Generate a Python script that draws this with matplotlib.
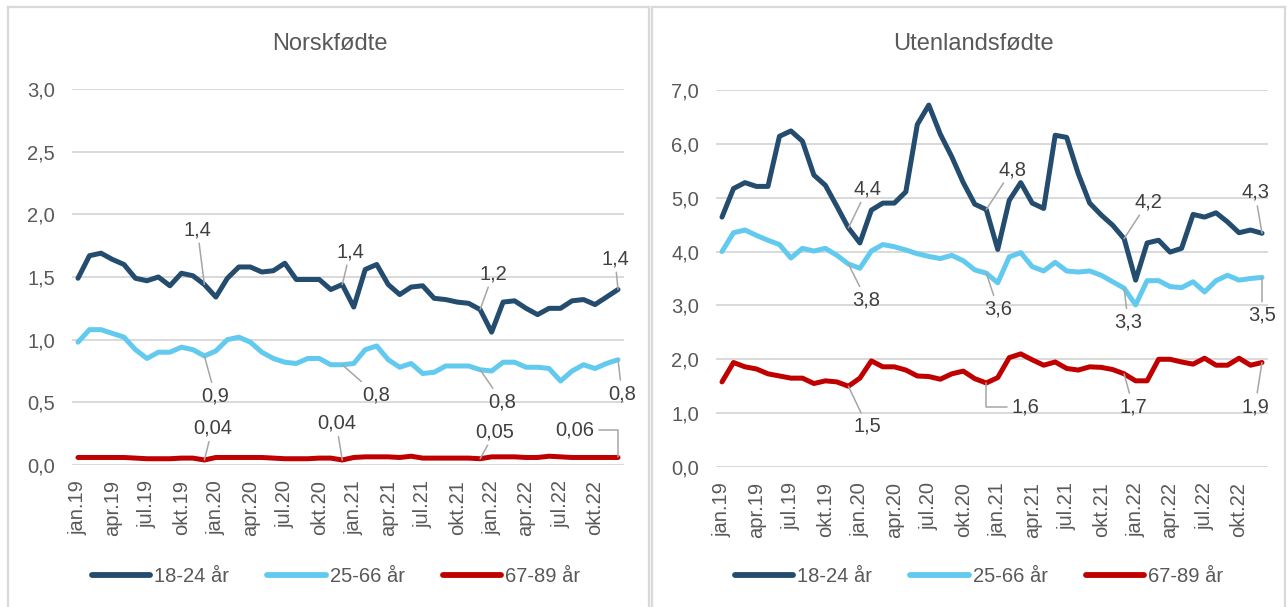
import matplotlib
matplotlib.use('Agg')
import matplotlib.pyplot as plt
from matplotlib.lines import Line2D
from matplotlib.ticker import FuncFormatter, FixedLocator

plt.rcParams['font.family'] = ['Liberation Sans', 'DejaVu Sans']

# ---------------- data ----------------
tick_labels = ['jan.19', 'apr.19', 'jul.19', 'okt.19',
               'jan.20', 'apr.20', 'jul.20', 'okt.20',
               'jan.21', 'apr.21', 'jul.21', 'okt.21',
               'jan.22', 'apr.22', 'jul.22', 'okt.22']
n_months = 48
series_names = ['18-24 år', '25-66 år', '67-89 år']

norsk_18_24 = [1.49, 1.67, 1.69, 1.64, 1.60, 1.49, 1.47, 1.50, 1.43, 1.53, 1.51, 1.44,
               1.34, 1.49, 1.58, 1.58, 1.54, 1.55, 1.61, 1.48, 1.48, 1.48, 1.40, 1.44,
               1.26, 1.56, 1.60, 1.44, 1.36, 1.42, 1.43, 1.33, 1.32, 1.30, 1.29, 1.24,
               1.06, 1.30, 1.31, 1.25, 1.20, 1.25, 1.25, 1.31, 1.32, 1.28, 1.34, 1.40]
norsk_25_66 = [0.98, 1.08, 1.08, 1.05, 1.02, 0.92, 0.85, 0.90, 0.90, 0.94, 0.92, 0.87,
               0.91, 1.00, 1.02, 0.98, 0.90, 0.85, 0.82, 0.81, 0.85, 0.85, 0.80, 0.80,
               0.81, 0.92, 0.95, 0.84, 0.78, 0.81, 0.73, 0.74, 0.79, 0.79, 0.79, 0.76,
               0.75, 0.82, 0.82, 0.78, 0.78, 0.77, 0.67, 0.75, 0.80, 0.77, 0.81, 0.84]
norsk_67_89 = [0.060, 0.060, 0.060, 0.060, 0.060, 0.055, 0.050, 0.050, 0.050, 0.055, 0.055, 0.040,
               0.060, 0.060, 0.060, 0.060, 0.060, 0.055, 0.050, 0.050, 0.050, 0.055, 0.055, 0.040,
               0.060, 0.065, 0.065, 0.065, 0.060, 0.070, 0.055, 0.055, 0.055, 0.055, 0.055, 0.050,
               0.065, 0.065, 0.065, 0.060, 0.060, 0.070, 0.065, 0.060, 0.060, 0.060, 0.060, 0.060]

utl_18_24 = [4.64, 5.17, 5.28, 5.21, 5.21, 6.14, 6.24, 6.05, 5.42, 5.23, 4.84, 4.44,
             4.16, 4.77, 4.90, 4.90, 5.11, 6.36, 6.72, 6.18, 5.76, 5.28, 4.88, 4.78,
             4.04, 4.95, 5.28, 4.90, 4.80, 6.16, 6.12, 5.45, 4.90, 4.68, 4.49, 4.24,
             3.47, 4.16, 4.21, 3.99, 4.06, 4.69, 4.64, 4.72, 4.55, 4.35, 4.40, 4.34]
utl_25_66 = [4.00, 4.35, 4.40, 4.30, 4.21, 4.13, 3.88, 4.06, 4.01, 4.06, 3.93, 3.77,
             3.69, 4.01, 4.13, 4.09, 4.03, 3.96, 3.91, 3.87, 3.93, 3.83, 3.66, 3.60,
             3.42, 3.90, 3.98, 3.72, 3.64, 3.80, 3.64, 3.62, 3.64, 3.56, 3.44, 3.32,
             3.01, 3.46, 3.46, 3.35, 3.33, 3.44, 3.25, 3.46, 3.56, 3.47, 3.50, 3.52]
utl_67_89 = [1.58, 1.94, 1.86, 1.82, 1.73, 1.69, 1.65, 1.65, 1.55, 1.60, 1.58, 1.50,
             1.65, 1.97, 1.86, 1.86, 1.80, 1.69, 1.68, 1.63, 1.73, 1.78, 1.64, 1.56,
             1.66, 2.03, 2.10, 1.99, 1.89, 1.95, 1.83, 1.80, 1.86, 1.85, 1.81, 1.73,
             1.60, 1.60, 2.00, 2.00, 1.95, 1.91, 2.02, 1.89, 1.89, 2.02, 1.89, 1.94]

labelled_months = [11, 23, 35, 47]

# ---------------- style ----------------
colors = ['#244C6E', '#62CAEF', '#C00000']
grey_txt = '#595959'
lab_txt = '#404040'
grid_c = '#D9D9D9'
lead_c = '#A6A6A6'
FS = 14.5
W, H = 1287, 607

fig = plt.figure(figsize=(W / 100, H / 100), dpi=100)

def px_rect(x0, y_top, x1, y_bot):
    return [x0 / W, 1 - y_bot / H, (x1 - x0) / W, (y_bot - y_top) / H]

# label offsets in px (dx right, dy up) per series per labelled month; None elbow flag
left_offsets = [
    [(-7, 55), (8, 33), (13, 36), (-3, 31)],
    [(11, -40), (34, -30), (22, -32), (4, -34)],
    [(8, 32), (-6, 37), (15, 27), (-43, 27)],
]
right_offsets = [
    [(19, 39), (26, 40), (24, 37), (-7, 41)],
    [(18, -36), (12, -36), (4, -34), (0, -38)],
    [(19, -40), (39, -24), (9, -33), (-7, -44)],
]
left_elbow = {(2, 3): 'right'}
right_elbow = {(2, 1): 'left'}


def draw_panel(rect, data, ymax, ystep, decimals, offsets, elbows, title, title_x, legend_x):
    ax = fig.add_axes(rect)
    x = list(range(n_months))
    for s, (vals, c) in enumerate(zip(data, colors)):
        ax.plot(x, vals, color=c, lw=3.6, solid_joinstyle='round', solid_capstyle='round', zorder=3)
    ax.set_xlim(-0.5, n_months - 0.5)
    ax.set_ylim(0, ymax)
    yt = [i * ystep for i in range(int(round(ymax / ystep)) + 1)]
    ax.yaxis.set_major_locator(FixedLocator(yt))
    ax.yaxis.set_major_formatter(FuncFormatter(lambda v, p: f"{v:.1f}".replace('.', ',')))
    ax.set_xticks(list(range(0, n_months, 3)))
    ax.set_xticklabels(tick_labels, rotation=90, ha='center', va='top')
    ax.tick_params(axis='both', length=0, labelsize=FS, labelcolor=grey_txt)
    ax.tick_params(axis='y', pad=12.5)
    ax.tick_params(axis='x', pad=11)
    ax.grid(axis='y', color=grid_c, lw=1.4, zorder=0)
    ax.set_axisbelow(True)
    for sp in ax.spines.values():
        sp.set_visible(False)

    for s, vals in enumerate(data):
        for k, m in enumerate(labelled_months):
            v = vals[m]
            txt = f"{v:.{decimals[s]}f}".replace('.', ',')
            dx, dy = offsets[s][k]
            ap = dict(arrowstyle='-', color=lead_c, lw=1.1, shrinkA=1, shrinkB=0)
            if (s, k) in elbows:
                side = elbows[(s, k)]
                ap.update(connectionstyle='angle,angleA=0,angleB=90,rad=0',
                          relpos=(1.0, 0.5) if side == 'right' else (0.0, 0.5))
            ax.annotate(txt, xy=(m, v), xytext=(dx * 0.72, dy * 0.72),
                        textcoords='offset points', ha='center', va='center',
                        fontsize=FS, color=lab_txt, arrowprops=ap, zorder=5)

    fig.text(title_x / W, 1 - 44 / H, title, ha='center', va='center', fontsize=17, color=grey_txt)
    handles = [Line2D([0], [0], color=c, lw=4.2, solid_capstyle='round') for c in colors]
    fig.legend(handles, series_names, loc='center', bbox_to_anchor=(legend_x / W, 1 - 577 / H),
               ncol=3, frameon=False, handlelength=2.9, handletextpad=0.2,
               columnspacing=1.9, fontsize=FS, labelcolor=grey_txt)
    return ax


draw_panel(px_rect(72.25, 89, 623.75, 465), [norsk_18_24, norsk_25_66, norsk_67_89],
           3.0, 0.5, [1, 1, 2], left_offsets, left_elbow, 'Norskfødte', 330, 336)
draw_panel(px_rect(716.25, 90, 1267.75, 467), [utl_18_24, utl_25_66, utl_67_89],
           7.0, 1.0, [1, 1, 1], right_offsets, right_elbow, 'Utenlandsfødte', 973, 979)

# chart area borders
def fline(x0, y0, x1, y1):
    fig.add_artist(Line2D([x0 / W, x1 / W], [1 - y0 / H, 1 - y1 / H], transform=fig.transFigure,
                          color=grid_c, lw=1.6))

for (a, b) in [(8, 649), (652, 1285)]:
    fline(a, 7, b, 7)
    fline(a, 7, a, 607)
    fline(b, 7, b, 607)

fig.savefig('out.png', dpi=100, facecolor='white')
